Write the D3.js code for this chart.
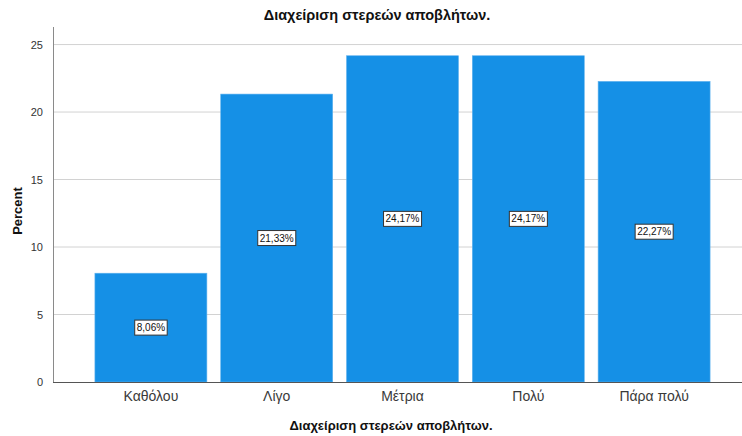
<!DOCTYPE html>
<html>
<head>
<meta charset="utf-8">
<script src="https://cdn.jsdelivr.net/npm/d3@7"></script>
<style>
  body { margin: 0; background: #fff; }
  svg { display: block; font-family: "Liberation Sans", Arial, sans-serif; }
</style>
</head>
<body>
<svg id="chart" width="742" height="436"></svg>
<script>
// Waste management survey: share of answers per category
const categories = ["Καθόλου", "Λίγο", "Μέτρια", "Πολύ", "Πάρα πολύ"];
const percents = [8.06, 21.33, 24.17, 24.17, 22.27];
const yTicks = [0, 5, 10, 15, 20, 25];
const title = "Διαχείριση στερεών αποβλήτων.";
const xTitle = "Διαχείριση στερεών αποβλήτων.";
const yTitle = "Percent";

const svg = d3.select("#chart");
const axisX = 53, plotTop = 27, plotBottom = 382, plotRight = 742;

const x = d3.scaleBand().domain(categories).range([88, 717]).paddingInner(0.11).paddingOuter(0.055);
const y = d3.scaleLinear().domain([0, 26.3]).range([plotBottom, plotTop]);

// horizontal gridlines
svg.append("g").selectAll("line").data(yTicks.filter(d => d > 0)).join("line")
  .attr("x1", axisX).attr("x2", plotRight)
  .attr("y1", d => y(d)).attr("y2", d => y(d))
  .attr("stroke", "#d2d2d2").attr("stroke-width", 1);

// bars
svg.append("g").selectAll("rect").data(categories).join("rect")
  .attr("x", d => x(d))
  .attr("y", (d, i) => y(percents[i]))
  .attr("width", x.bandwidth())
  .attr("height", (d, i) => y(0) - y(percents[i]))
  .attr("fill", "#1590e6")
  .attr("stroke", "#5fb2ee").attr("stroke-width", 0.6);

// y axis
const yAxis = svg.append("g").attr("transform", `translate(${axisX},0)`)
  .call(d3.axisLeft(y).tickValues(yTicks).tickSize(0).tickPadding(10));
yAxis.select(".domain").remove();
yAxis.selectAll("text").attr("font-size", 11).attr("fill", "#333").attr("font-family", "Liberation Sans, Arial, sans-serif");
svg.append("line").attr("x1", axisX + 0.5).attr("x2", axisX + 0.5)
  .attr("y1", plotTop).attr("y2", plotBottom).attr("stroke", "#8a8a8a").attr("stroke-width", 1);

// x axis
const xAxis = svg.append("g").attr("transform", `translate(0,${plotBottom})`)
  .call(d3.axisBottom(x).tickSize(0).tickPadding(9));
xAxis.select(".domain").remove();
xAxis.selectAll("text").attr("font-size", 14).attr("fill", "#3a3a3a").attr("font-family", "Liberation Sans, Arial, sans-serif");
svg.append("line").attr("x1", axisX).attr("x2", plotRight)
  .attr("y1", plotBottom + 0.5).attr("y2", plotBottom + 0.5).attr("stroke", "#555").attr("stroke-width", 1);

// value labels in boxes at mid-height of each bar
const lbl = svg.append("g").selectAll("g").data(categories).join("g")
  .attr("transform", (d, i) => `translate(${x(d) + x.bandwidth() / 2},${y(percents[i] / 2)})`);
lbl.append("text")
  .attr("text-anchor", "middle").attr("dy", "0.35em")
  .attr("font-size", 10).attr("fill", "#111")
  .text((d, i) => percents[i].toFixed(2).replace(".", ",") + "%");
lbl.each(function () {
  const g = d3.select(this);
  const b = g.select("text").node().getBBox();
  g.insert("rect", "text")
    .attr("x", b.x - 2).attr("y", -7.5)
    .attr("width", b.width + 4).attr("height", 15)
    .attr("fill", "#fff").attr("stroke", "#333").attr("stroke-width", 1);
});

// titles
svg.append("text").attr("x", 377).attr("y", 20).attr("text-anchor", "middle")
  .attr("font-size", 14.5).attr("font-weight", "bold").attr("fill", "#111").text(title);
svg.append("text").attr("x", 391).attr("y", 430).attr("text-anchor", "middle")
  .attr("font-size", 13).attr("font-weight", "bold").attr("fill", "#111").text(xTitle);
svg.append("text").attr("transform", "translate(22,211) rotate(-90)").attr("text-anchor", "middle")
  .attr("font-size", 13).attr("font-weight", "bold").attr("fill", "#111").text(yTitle);
</script>
</body>
</html>
